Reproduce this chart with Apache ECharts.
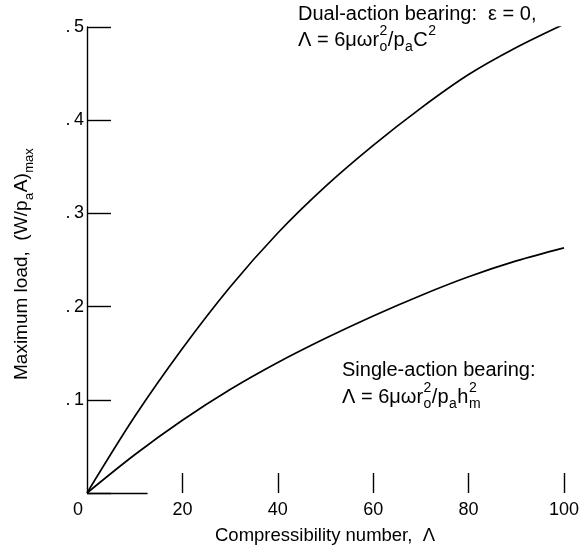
<!DOCTYPE html>
<html><head><meta charset="utf-8">
<script src="https://cdn.jsdelivr.net/npm/echarts@6/dist/echarts.min.js"></script>
<style>html,body{margin:0;padding:0;background:#fff}#c{width:582px;height:550px}</style>
</head><body><div id="c"></div>
<script>
// ---- data ----
const lambdaValues = [0, 10, 20, 30, 40, 50, 60, 70, 80, 90, 100];
const dualAction   = [0, 0.082, 0.155, 0.221, 0.279, 0.329, 0.373, 0.413, 0.449, 0.478, 0.503];
const singleAction = [0, 0.041, 0.078, 0.111, 0.140, 0.166, 0.190, 0.212, 0.232, 0.249, 0.263];
const xTicks = [20, 40, 60, 80, 100];
const yTickLabels = {0.1: '.1', 0.2: '.2', 0.3: '.3', 0.4: '.4', 0.5: '.5'};
const xAxisStubEnd = 12.7;

const FONT = "'Liberation Sans', Arial, sans-serif";
const NARROW = "'Liberation Sans Narrow', 'Liberation Sans', sans-serif";
const cv = document.createElement('canvas').getContext('2d');
function mw(t, s, f) { cv.font = s + 'px ' + f; return cv.measureText(t).width; }

// build text pieces with sub/superscripts; middle at y=0
function formula(pieces, size, family) {
  const small = Math.round(size * 0.68);
  const out = []; let x = 0;
  const txt = (t, xx, yy, s) => ({type: 'text', x: xx, y: yy, style: {text: t, font: s + 'px ' + family, fill: '#000', align: 'left', verticalAlign: 'middle'}});
  pieces.forEach(p => {
    if (p.t !== undefined) { out.push(txt(p.t, x, 0, size)); x += mw(p.t, size, family); }
    else {
      let w = 0;
      if (p.sup) { out.push(txt(p.sup, x + 0.5, -size * 0.42, small)); w = Math.max(w, mw(p.sup, small, family)); }
      if (p.sub) { out.push(txt(p.sub, x + 0.5, size * 0.38, small)); w = Math.max(w, mw(p.sub, small, family)); }
      x += w + 1;
    }
  });
  return out;
}

const chart = echarts.init(document.getElementById('c'));
const lineStyle = {color: '#000', width: 1.7};
chart.setOption({
  animation: false,
  backgroundColor: '#fff',
  grid: {left: 87, right: 16, top: 27, bottom: 57},
  xAxis: {
    type: 'value', min: 0, max: 100, interval: 20,
    axisLine: {show: false},
    axisTick: {show: true, inside: true, length: 20, customValues: xTicks, lineStyle: {color: '#000', width: 1.4}},
    splitLine: {show: false},
    axisLabel: {
      margin: 8, color: '#000', fontSize: 18, fontFamily: NARROW,
      formatter: v => v === 0 ? '{z|0}' : String(v),
      rich: {z: {fontSize: 18, fontFamily: NARROW, color: '#000', padding: [0, 18, 0, 0]}}
    }
  },
  yAxis: {
    type: 'value', min: 0, max: 0.5, interval: 0.1,
    axisLine: {show: true, lineStyle: {color: '#000', width: 1.4}},
    axisTick: {show: true, inside: true, length: 24, lineStyle: {color: '#000', width: 1.4}},
    splitLine: {show: false},
    axisLabel: {
      margin: 3, color: '#000', fontSize: 18, fontFamily: NARROW,
      formatter: v => { const k = (Math.round(v * 10) / 10); return yTickLabels[k] ? yTickLabels[k].replace('.', '.\u2009') : ''; }
    }
  },
  series: [
    {type: 'line', data: lambdaValues.map((x, i) => [x, dualAction[i]]), smooth: 0.3, symbol: 'none', lineStyle},
    {type: 'line', data: lambdaValues.map((x, i) => [x, singleAction[i]]), smooth: 0.3, symbol: 'none', lineStyle,
     markLine: {silent: true, symbol: 'none', label: {show: false}, lineStyle: {color: '#000', width: 1.4, type: 'solid'},
       data: [[{coord: [0, 0]}, {coord: [xAxisStubEnd, 0]}]]}}
  ],
  graphic: [
    {type: 'group', x: 298, y: 14, children: formula([{t: 'Dual-action bearing:  ε = 0,'}], 20, FONT)},
    {type: 'group', x: 298, y: 40, children: formula([{t: 'Λ = 6μωr'}, {sup: '2', sub: 'o'}, {t: '/p'}, {sub: 'a'}, {t: 'C'}, {sup: '2'}], 20, FONT)},
    {type: 'group', x: 342, y: 370, children: formula([{t: 'Single-action bearing:'}], 20, FONT)},
    {type: 'group', x: 342, y: 397, children: formula([{t: 'Λ = 6μωr'}, {sup: '2', sub: 'o'}, {t: '/p'}, {sub: 'a'}, {t: 'h'}, {sup: '2', sub: 'm'}], 20, FONT)},
    {type: 'group', x: 215, y: 536, children: formula([{t: 'Compressibility number,  Λ'}], 18.5, FONT)},
    {type: 'group', x: 22, y: 380, rotation: Math.PI / 2, children: formula([{t: 'Maximum load,  (W/p'}, {sub: 'a'}, {t: 'A)'}, {sub: 'max'}], 19, FONT)}
  ]
});
</script></body></html>
